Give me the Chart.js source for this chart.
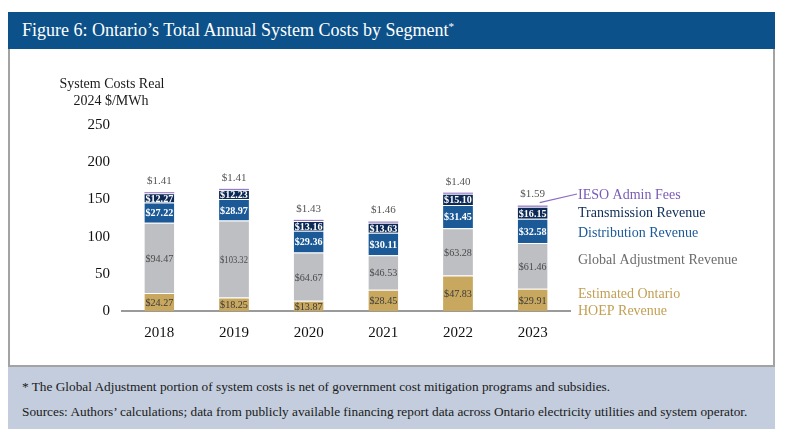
<!DOCTYPE html>
<html>
<head>
<meta charset="utf-8">
<script src="https://cdn.jsdelivr.net/npm/chart.js@4.4.0/dist/chart.umd.min.js"></script>
<style>
  html, body { margin: 0; padding: 0; background: #fff; }
  body { width: 800px; height: 438px; position: relative; overflow: hidden; font-family: "Liberation Serif", "DejaVu Serif", serif; }
  #titlebar { position: absolute; left: 8px; top: 12px; width: 767px; height: 37px; background: #0c5189; color: #fff; font-size: 18px; line-height: 37px; }
  #titlebar span { position: absolute; left: 14px; top: 0; white-space: nowrap; }
  #titlebar sup { font-size: 11px; vertical-align: 6px; line-height: 0; }
  #box { position: absolute; left: 8px; top: 49px; width: 763px; height: 316px; border: 2px solid #a3a3a3; border-top: none; }
  #notes { position: absolute; left: 8px; top: 367px; width: 767px; height: 62px; background: #c3cddd; color: #1a1a1a; font-size: 13.3px; }
  #notes div { position: absolute; left: 14px; white-space: nowrap; }
  #wrap { position: absolute; left: 0; top: 0; width: 800px; height: 438px; }
</style>
</head>
<body>
<div id="titlebar"><span>Figure 6: Ontario’s Total Annual System Costs by Segment<sup>*</sup></span></div>
<div id="box"></div>
<div id="notes">
  <div style="top:12px">* The Global Adjustment portion of system costs is net of government cost mitigation programs and subsidies.</div>
  <div style="top:37px">Sources: Authors’ calculations; data from publicly available financing report data across Ontario electricity utilities and system operator.</div>
</div>
<div id="wrap"><canvas id="chart" width="800" height="438"></canvas></div>
<script>
// data
const years = ['2018', '2019', '2020', '2021', '2022', '2023'];
const hoep = [24.27, 18.25, 13.87, 28.45, 47.83, 29.91];
const globalAdj = [94.47, 103.32, 64.67, 46.53, 63.28, 61.46];
const distribution = [27.22, 28.97, 29.36, 30.11, 31.45, 32.58];
const transmission = [12.27, 12.23, 13.16, 13.63, 15.10, 16.15];
const iesoFees = [1.41, 1.41, 1.43, 1.46, 1.40, 1.59];
const yTicks = [0, 50, 100, 150, 200, 250];

const SERIF = '"Liberation Serif", "DejaVu Serif", serif';

const seriesInfo = [
  { label: 'Estimated Ontario HOEP Revenue', data: hoep, color: '#c8a75e', text: '#3a3a3a', bold: false },
  { label: 'Global Adjustment Revenue', data: globalAdj, color: '#bebfc3', text: '#4a4a4a', bold: false },
  { label: 'Distribution Revenue', data: distribution, color: '#1b5a97', text: '#ffffff', bold: true },
  { label: 'Transmission Revenue', data: transmission, color: '#0d2a56', text: '#ffffff', bold: true },
  { label: 'IESO Admin Fees', data: iesoFees, color: '#8b6cc2', text: '#555555', bold: false }
];

// legend text on the right, drawn by hand like the original
const legendLines = [
  { text: 'IESO Admin Fees', color: '#7a5bb5', y: 195 },
  { text: 'Transmission Revenue', color: '#0d2a56', y: 213 },
  { text: 'Distribution Revenue', color: '#1b5a97', y: 233 },
  { text: 'Global Adjustment Revenue', color: '#6b6b6b', y: 260 },
  { text: 'Estimated Ontario', color: '#c29f52', y: 294 },
  { text: 'HOEP Revenue', color: '#c29f52', y: 311 }
];

const money = v => '$' + v.toFixed(2);

const labelPlugin = {
  id: 'segLabels',
  afterDatasetsDraw(chart) {
    const ctx = chart.ctx;
    ctx.save();
    ctx.textAlign = 'center';
    ctx.textBaseline = 'middle';
    chart.data.datasets.forEach((ds, di) => {
      const info = seriesInfo[di];
      const meta = chart.getDatasetMeta(di);
      meta.data.forEach((bar, i) => {
        const v = ds.data[i];
        ctx.fillStyle = info.text;
        if (di === 4) {
          ctx.font = '11px ' + SERIF;
          ctx.fillText(money(v), bar.x, bar.y - 11);
        } else {
          ctx.font = (info.bold ? 'bold ' : '') + '11px ' + SERIF;
          // squeeze to the bar width, the original face is narrow
          ctx.fillText(money(v), bar.x, (bar.y + bar.base) / 2 + 1, bar.width - 2);
        }
      });
    });
    ctx.restore();
  },
  afterDraw(chart) {
    const ctx = chart.ctx;
    const area = chart.chartArea;
    ctx.save();
    // y axis title
    ctx.fillStyle = '#1a1a1a';
    ctx.font = '14px ' + SERIF;
    ctx.textAlign = 'center';
    ctx.textBaseline = 'middle';
    ctx.fillText('System Costs Real', 112, 84);
    ctx.fillText('2024 $/MWh', 111, 101);
    // legend
    const lx = area.right + 8;
    ctx.textAlign = 'left';
    ctx.font = '14px ' + SERIF;
    legendLines.forEach(l => {
      ctx.fillStyle = l.color;
      ctx.fillText(l.text, lx, l.y);
    });
    // leader line from IESO label to last bar
    const last = chart.getDatasetMeta(4).data[years.length - 1];
    ctx.strokeStyle = '#8b6cc2';
    ctx.lineWidth = 1.2;
    ctx.beginPath();
    ctx.moveTo(lx - 1, legendLines[0].y - 1);
    ctx.lineTo(last.x + 7, last.y - 3);
    ctx.stroke();
    ctx.restore();
  }
};

new Chart(document.getElementById('chart'), {
  type: 'bar',
  data: {
    labels: years,
    datasets: seriesInfo.map((s, i) => ({
      label: s.label,
      data: s.data,
      backgroundColor: s.color,
      borderColor: 'rgba(255,255,255,0.5)',
      borderWidth: i === 4 ? 0 : { top: 1, bottom: 0, left: 0, right: 0 },
      borderSkipped: false,
      barPercentage: 0.8,
      categoryPercentage: 0.5
    }))
  },
  options: {
    responsive: false,
    animation: false,
    layout: { padding: { left: 0, right: 230, top: 125, bottom: 0 } },
    plugins: { legend: { display: false }, tooltip: { enabled: false } },
    scales: {
      x: {
        stacked: true,
        grid: { display: false },
        border: { display: true, color: '#9a9a9a', width: 2 },
        ticks: { color: '#111', font: { family: SERIF, size: 15 }, padding: 5 },
        afterFit(scale) { scale.height = 127; }
      },
      y: {
        stacked: true,
        min: 0,
        max: 250,
        afterBuildTicks(scale) { scale.ticks = yTicks.map(v => ({ value: v })); },
        grid: { display: false },
        border: { display: false },
        ticks: { color: '#111', font: { family: SERIF, size: 15 }, padding: 4 },
        afterFit(scale) { scale.width = 122; }
      }
    }
  },
  plugins: [labelPlugin]
});
</script>
</body>
</html>
